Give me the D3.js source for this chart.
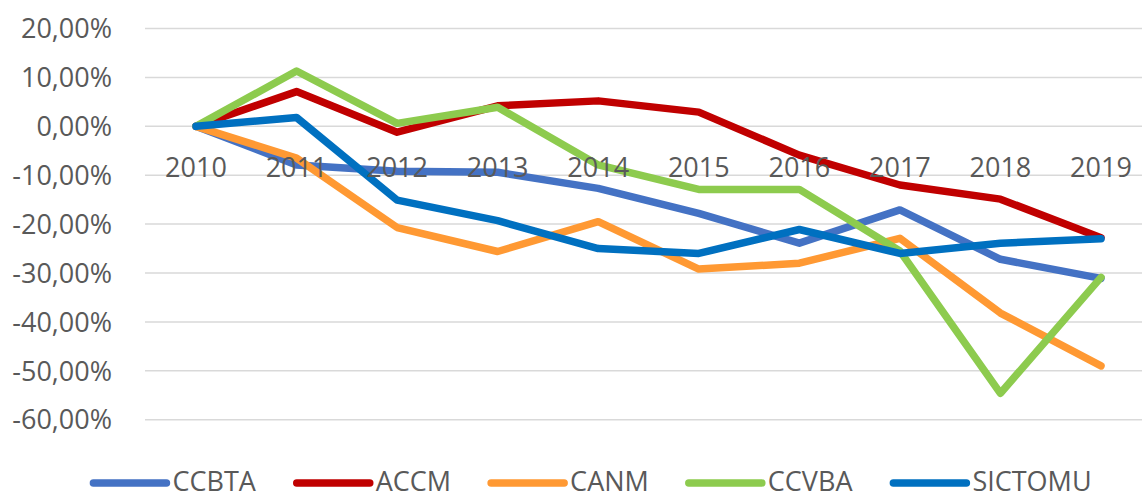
<!DOCTYPE html>
<html><head><meta charset="utf-8">
<script src="https://cdn.jsdelivr.net/npm/d3@7"></script>
<style>html,body{margin:0;padding:0;background:#fff;}svg{display:block;}</style>
</head><body>
<svg id="chart" width="1142" height="498"></svg>
<script>
const years = ["2010","2011","2012","2013","2014","2015","2016","2017","2018","2019"];
const seriesNames = ["CCBTA","ACCM","CANM","CCVBA","SICTOMU"];
const colors = ["#4472C4","#C00000","#FF9933","#8DCB4E","#0070C0"];
const ccbta   = [0, -7.9, -9.2, -9.4, -12.7, -17.8, -23.9, -17.1, -27.2, -31.1];
const accm    = [0, 7.1, -1.2, 4.2, 5.2, 2.9, -5.9, -12.0, -14.9, -22.8];
const canm    = [0, -6.5, -20.7, -25.6, -19.5, -29.2, -28.0, -22.9, -38.2, -49.0];
const ccvba   = [0, 11.3, 0.6, 3.9, -7.9, -12.9, -12.9, -25.5, -54.6, -30.9];
const sictomu = [0, 1.8, -15.1, -19.3, -25.0, -26.0, -21.1, -26.0, -23.9, -23.0];
const yTicks = [20, 10, 0, -10, -20, -30, -40, -50, -60];
const yTickLabels = ["20,00%","10,00%","0,00%","-10,00%","-20,00%","-30,00%","-40,00%","-50,00%","-60,00%"];

const allSeries = [ccbta, accm, canm, ccvba, sictomu];
const svg = d3.select("#chart");
const font = "'Open Sans', 'Liberation Sans', sans-serif";
const textColor = "#595959";

const x = d3.scalePoint().domain(years).range([196, 1101]);
const y = d3.scaleLinear().domain([-60, 20]).range([419.7, 28.5]);

// gridlines
svg.append("g").selectAll("line").data(yTicks).join("line")
  .attr("x1", 145).attr("x2", 1142)
  .attr("y1", d => y(d)).attr("y2", d => y(d))
  .attr("stroke", "#d9d9d9").attr("stroke-width", 1.5);

// y labels
svg.append("g").selectAll("text").data(yTicks).join("text")
  .attr("x", 112).attr("y", d => y(d))
  .attr("dy", "0.36em")
  .attr("text-anchor", "end")
  .attr("font-family", font).attr("font-size", 27)
  .attr("fill", textColor)
  .text((d, i) => yTickLabels[i]);

// lines
const line = d3.line().x((d, i) => x(years[i])).y(d => y(d));
svg.append("g").selectAll("path").data(allSeries).join("path")
  .attr("d", d => line(d))
  .attr("fill", "none")
  .attr("stroke", (d, i) => colors[i])
  .attr("stroke-width", 7.5)
  .attr("stroke-linejoin", "round")
  .attr("stroke-linecap", "round");

// x labels
svg.append("g").selectAll("text").data(years).join("text")
  .attr("x", d => x(d)).attr("y", 177)
  .attr("text-anchor", "middle")
  .attr("font-family", font).attr("font-size", 27)
  .attr("fill", textColor)
  .text(d => d);

// legend
const lg = svg.append("g");
const items = lg.selectAll("g").data(seriesNames).join("g");
items.append("line")
  .attr("x1", 0).attr("x2", 73).attr("y1", 483).attr("y2", 483)
  .attr("stroke", (d, i) => colors[i]).attr("stroke-width", 7.5)
  .attr("stroke-linecap", "round");
items.append("text")
  .attr("x", 79).attr("y", 491)
  .attr("font-family", font).attr("font-size", 27)
  .attr("fill", textColor)
  .text(d => d);
let widths = [];
items.each(function() { widths.push(this.getBBox().width); });
let total = d3.sum(widths) + 40 * (widths.length - 1);
let cx = 592.5 - total / 2;
items.each(function(d, i) {
  d3.select(this).attr("transform", `translate(${cx},0)`);
  cx += widths[i] + 40;
});
</script>
</body></html>
